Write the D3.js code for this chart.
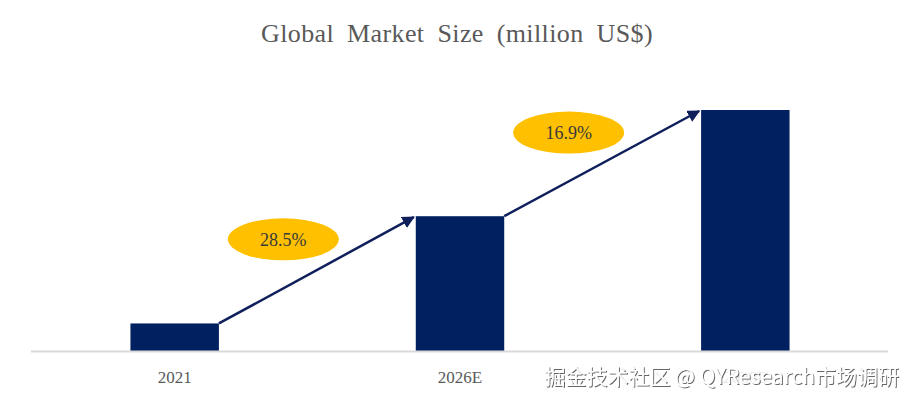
<!DOCTYPE html>
<html>
<head>
<meta charset="utf-8">
<script src="https://cdn.jsdelivr.net/npm/d3@7"></script>
<style>
  body { margin: 0; background: #fff; }
</style>
</head>
<body>
<div id="chart"></div>
<script>
// data (bar heights in relative units)
var years = ['2021', '2026E', '2030E'];
var sizes = [28, 135, 241];
var growth = ['28.5%', '16.9%'];

var width = 913;
var height = 398;
var baseline = 351.5;

var svg = d3.select('#chart')
    .append('svg')
    .attr('width', width)
    .attr('height', height);

var defs = svg.append('defs');
defs.append('marker')
    .attr('id', 'head')
    .attr('viewBox', '0 0 10 10')
    .attr('refX', 9)
    .attr('refY', 5)
    .attr('markerWidth', 5)
    .attr('markerHeight', 5)
    .attr('orient', 'auto')
    .append('path')
    .attr('d', 'M0,0 L10,5 L0,10 z')
    .attr('fill', '#0f1f5c');

var shadow = defs.append('filter').attr('id', 'wm');
shadow.append('feDropShadow')
    .attr('dx', 1).attr('dy', 1)
    .attr('stdDeviation', 0.6)
    .attr('flood-color', '#555')
    .attr('flood-opacity', 0.9);

// title
svg.append('text')
    .attr('x', 457)
    .attr('y', 42)
    .attr('text-anchor', 'middle')
    .style('font-family', '"Liberation Serif", "Times New Roman", serif')
    .style('font-size', '26px')
    .style('word-spacing', '6px')
    .style('letter-spacing', '0.4px')
    .attr('fill', '#595959')
    .text('Global Market Size (million US$)');

// scales
var xscale = d3.scaleBand()
    .domain(years)
    .range([32, 888])
    .paddingInner(0.69)
    .paddingOuter(0.345);

var yscale = d3.scaleLinear()
    .domain([0, d3.max(sizes)])
    .range([baseline, 110]);

var data = years.map(function(y, i) {
    return { year: y, value: sizes[i] };
});

// bars
svg.selectAll('rect.bar')
    .data(data)
    .enter()
    .append('rect')
    .attr('class', 'bar')
    .attr('x', d => xscale(d.year))
    .attr('y', d => yscale(d.value))
    .attr('width', xscale.bandwidth())
    .attr('height', d => baseline - yscale(d.value))
    .attr('fill', '#002060');

// base line
svg.append('line')
    .attr('x1', 31)
    .attr('x2', 888)
    .attr('y1', baseline)
    .attr('y2', baseline)
    .attr('stroke', '#d9d9d9')
    .attr('stroke-width', 2);

// category labels
var xaxis = d3.axisBottom(xscale).tickSize(0).tickPadding(19);
var ax = svg.append('g')
    .attr('transform', 'translate(0,' + baseline + ')')
    .call(xaxis);
ax.select('.domain').remove();
ax.selectAll('text')
    .style('font-family', '"Liberation Serif", "Times New Roman", serif')
    .style('font-size', '17px')
    .attr('fill', '#595959');

// growth arrows + ellipses
var links = growth.map(function(g, i) {
    return {
        label: g,
        x1: xscale(years[i]) + xscale.bandwidth(),
        y1: yscale(sizes[i]),
        x2: xscale(years[i + 1]) - 2,
        y2: yscale(sizes[i + 1]) + 1
    };
});

svg.selectAll('line.arrow')
    .data(links)
    .enter()
    .append('line')
    .attr('class', 'arrow')
    .attr('x1', d => d.x1)
    .attr('y1', d => d.y1)
    .attr('x2', d => d.x2)
    .attr('y2', d => d.y2)
    .attr('stroke', '#0f1f5c')
    .attr('stroke-width', 2.5)
    .attr('marker-end', 'url(#head)');

var tag = svg.selectAll('g.tag')
    .data(links)
    .enter()
    .append('g')
    .attr('class', 'tag')
    .attr('transform', d => 'translate(' + ((d.x1 + d.x2) / 2 - 33) + ',' + ((d.y1 + d.y2) / 2 - 31) + ')');

tag.append('ellipse')
    .attr('rx', 55.5)
    .attr('ry', 21)
    .attr('fill', '#ffc000');

tag.append('text')
    .attr('text-anchor', 'middle')
    .attr('dy', '0.35em')
    .style('font-family', '"Liberation Serif", "Times New Roman", serif')
    .style('font-size', '18px')
    .attr('fill', '#3a3a3a')
    .text(d => d.label);

// watermark
svg.append('rect')
    .attr('x', 540)
    .attr('y', 360)
    .attr('width', 365)
    .attr('height', 30)
    .attr('fill', '#fff')
    .attr('opacity', 0.85);

svg.append('text')
    .attr('x', 899)
    .attr('y', 384)
    .attr('text-anchor', 'end')
    .style('font-family', '"Noto Sans CJK SC", "Noto Sans", sans-serif')
    .style('font-size', '21px')
    .attr('fill', '#ffffff')
    .attr('filter', 'url(#wm)')
    .text('掘金技术社区 @ QYResearch市场调研');
</script>
</body>
</html>
